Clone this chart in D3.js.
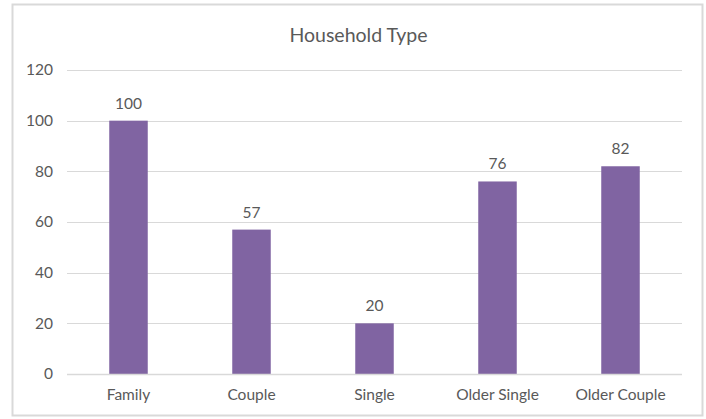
<!DOCTYPE html>
<html>
<head>
<meta charset="utf-8">
<script src="https://cdn.jsdelivr.net/npm/d3@7"></script>
<style>
  html, body { margin: 0; padding: 0; background: #fff; }
  svg { display: block; font-family: Lato, "Open Sans", sans-serif; }
</style>
</head>
<body>
<svg id="chart" width="706" height="419"></svg>
<script>
// Household counts by type
const categories = ["Family", "Couple", "Single", "Older Single", "Older Couple"];
const values = [100, 57, 20, 76, 82];
const yTicks = [0, 20, 40, 60, 80, 100, 120];
const chartTitle = "Household Type";

const svg = d3.select("#chart");
const plot = { left: 67, right: 682, top: 70, bottom: 374 };
const textColor = "#595959";
const gridColor = "#d9d9d9";
const barColor = "#8064a2";
const labelSize = "15.5px";

// outer chart frame
svg.append("rect")
  .attr("x", 12.5).attr("y", 4.5)
  .attr("width", 690).attr("height", 411)
  .attr("fill", "#fff")
  .attr("stroke", "#d9d9d9")
  .attr("stroke-width", 2);

const x = d3.scaleBand()
  .domain(categories)
  .range([plot.left, plot.right])
  .paddingInner(0.687)
  .paddingOuter(0.3435);

const y = d3.scaleLinear()
  .domain([0, 120])
  .range([plot.bottom, plot.top]);

// horizontal gridlines
svg.append("g")
  .selectAll("line")
  .data(yTicks)
  .join("line")
  .attr("x1", plot.left).attr("x2", plot.right)
  .attr("y1", d => Math.round(y(d)) + 0.5)
  .attr("y2", d => Math.round(y(d)) + 0.5)
  .attr("stroke", gridColor)
  .attr("stroke-width", 1);

// y axis labels
const yAxis = d3.axisLeft(y).tickValues(yTicks).tickSize(0).tickPadding(0);
const yg = svg.append("g")
  .attr("transform", `translate(${plot.left - 14},0)`)
  .call(yAxis);
yg.select(".domain").remove();
yg.selectAll("text")
  .attr("fill", textColor)
  .style("font-size", labelSize)
  .style("font-family", "Lato, 'Open Sans', sans-serif");

// bars
svg.append("g")
  .selectAll("rect")
  .data(values)
  .join("rect")
  .attr("x", (d, i) => x(categories[i]))
  .attr("width", x.bandwidth())
  .attr("y", d => y(d))
  .attr("height", d => y(0) - y(d))
  .attr("fill", barColor);

// baseline over bars
svg.append("line")
  .attr("x1", plot.left).attr("x2", plot.right)
  .attr("y1", Math.round(y(0)) + 0.5).attr("y2", Math.round(y(0)) + 0.5)
  .attr("stroke", gridColor).attr("stroke-width", 1.5);

// value labels
svg.append("g")
  .selectAll("text")
  .data(values)
  .join("text")
  .attr("x", (d, i) => x(categories[i]) + x.bandwidth() / 2)
  .attr("y", d => y(d) - 12)
  .attr("text-anchor", "middle")
  .attr("fill", textColor)
  .style("font-size", labelSize)
  .text(d => d);

// category labels
const xAxis = d3.axisBottom(x).tickSize(0).tickPadding(0);
const xg = svg.append("g")
  .attr("transform", `translate(0,${plot.bottom + 15})`)
  .call(xAxis);
xg.select(".domain").remove();
xg.selectAll("text")
  .attr("fill", textColor)
  .attr("dy", "0.71em")
  .style("font-size", labelSize)
  .style("font-family", "Lato, 'Open Sans', sans-serif");

// title
svg.append("text")
  .attr("x", 358.5)
  .attr("y", 42)
  .attr("text-anchor", "middle")
  .attr("fill", textColor)
  .style("font-size", "19.5px")
  .text(chartTitle);
</script>
</body>
</html>
